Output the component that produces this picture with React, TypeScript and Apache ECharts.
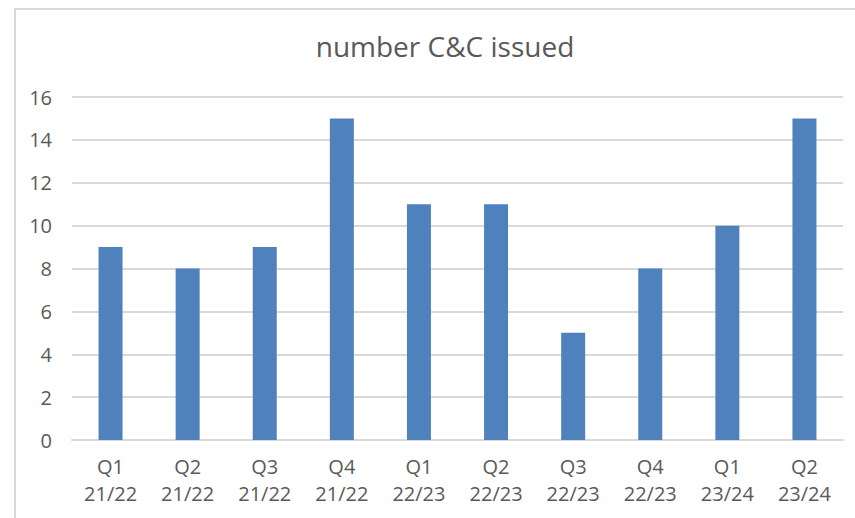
import React, { useEffect, useRef } from "react";
import * as echarts from "echarts";

const categories = [
  "Q1\n21/22", "Q2\n21/22", "Q3\n21/22", "Q4\n21/22", "Q1\n22/23",
  "Q2\n22/23", "Q3\n22/23", "Q4\n22/23", "Q1\n23/24", "Q2\n23/24",
];
const values = [9, 8, 9, 15, 11, 11, 5, 8, 10, 15];
const titleText = "number C&C issued";

export default function App() {
  const ref = useRef<HTMLDivElement>(null);
  useEffect(() => {
    document.body.style.margin = "0";
    const chart = echarts.init(ref.current!, null, { renderer: "svg" });
    const font = "'Open Sans', Lato, sans-serif";
    chart.setOption({
      animation: false,
      backgroundColor: "#ffffff",
      title: {
        text: titleText,
        left: 440,
        textAlign: "center",
        top: 27,
        textStyle: { fontFamily: font, fontSize: 28, fontWeight: "normal", color: "#595959" },
      },
      graphic: [
        {
          type: "rect",
          shape: { x: 15, y: 9, width: 900, height: 600 },
          style: { fill: "none", stroke: "#d9d9d9", lineWidth: 2 },
          silent: true,
        },
      ],
      grid: { left: 72, right: 12, top: 97, bottom: 78 },
      xAxis: {
        type: "category",
        data: categories,
        axisLine: { show: true, lineStyle: { color: "#d9d9d9", width: 2 } },
        axisTick: { show: false },
        axisLabel: {
          fontFamily: font,
          fontSize: 20,
          color: "#595959",
          lineHeight: 27,
          margin: 13,
          interval: 0,
        },
      },
      yAxis: {
        type: "value",
        min: 0,
        max: 16,
        interval: 2,
        axisLine: { show: false },
        axisTick: { show: false },
        splitLine: { lineStyle: { color: "#d9d9d9", width: 2 } },
        axisLabel: { fontFamily: font, fontSize: 20, color: "#595959", margin: 20 },
      },
      series: [
        {
          type: "bar",
          data: values,
          barWidth: 24,
          itemStyle: { color: "#4f81bd" },
        },
      ],
    });
    return () => chart.dispose();
  }, []);
  return <div ref={ref} style={{ width: 855, height: 518 }} />;
}
